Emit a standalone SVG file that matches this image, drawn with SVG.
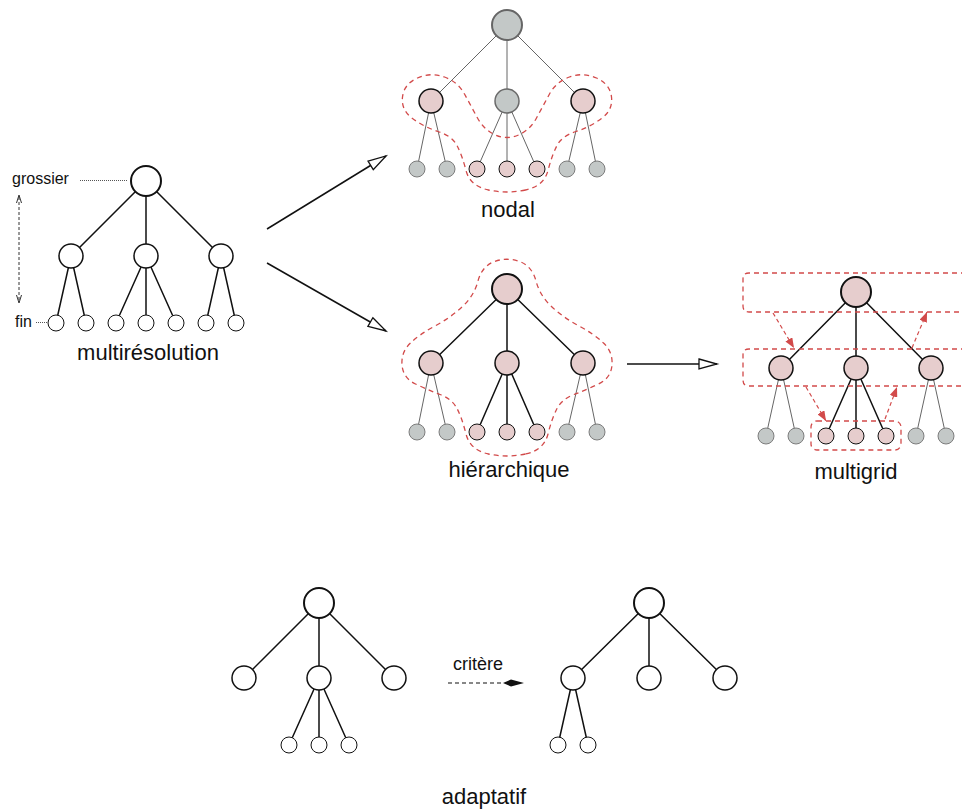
<svg xmlns="http://www.w3.org/2000/svg" width="962" height="809" viewBox="0 0 962 809">
<style>
text{font-family:"Liberation Sans",Arial,sans-serif;fill:#111}
.t{font-size:22px;text-anchor:middle}
.s{font-size:16px}
circle{fill:#fff;stroke:#111}
.r{stroke-width:2}
.m{stroke-width:1.5}
.l{stroke-width:1}
.pk{fill:#e6cdcd}
.gy{fill:#c3c8c7;stroke:#7c7c7c}
.e{stroke:#111;stroke-width:1.5;fill:none}
.eg{stroke:#666;stroke-width:1;fill:none}
.blob{fill:none;stroke:#d24a4a;stroke-width:1.3;stroke-dasharray:5 4}
.ra{stroke:#d24a4a;stroke-width:1.2;stroke-dasharray:4 3;fill:none;marker-end:url(#rh)}
.ba{stroke:#111;stroke-width:1.5;fill:none;marker-end:url(#oh)}
.dot{stroke:#555;stroke-width:1;stroke-dasharray:1 1}
</style>
<defs>
<marker id="oh" viewBox="0 0 20 12" refX="19" refY="6" markerWidth="20" markerHeight="12" markerUnits="userSpaceOnUse" orient="auto" overflow="visible">
<path d="M1,1 L19,6 L1,11 Z" fill="#fff" stroke="#111" stroke-width="1.3"/>
</marker>
<marker id="rh" viewBox="0 0 10 8" refX="10" refY="4" markerWidth="10" markerHeight="8" markerUnits="userSpaceOnUse" orient="auto">
<path d="M0,0 L10,4 L0,8 Z" fill="#d24a4a"/>
</marker>
</defs>

<g id="connectors">
<path class="e" d="M146,181 L71,256 M146,181 L146,256 M146,181 L221,256 M71,256 L56,323 M71,256 L86,323 M146,256 L116,323 M146,256 L146,323 M146,256 L176,323 M221,256 L206,323 M221,256 L236,323"/>
<path class="eg" d="M507,25 L431,101 M507,25 L507,101 M507,25 L583,101 M431,101 L417,169 M431,101 L447,169 M507,101 L477,169 M507,101 L507,169 M507,101 L537,169 M583,101 L567,169 M583,101 L597,169"/>
<path class="e" d="M507,289 L431,363 M507,289 L507,363 M507,289 L583,363 M507,363 L477,432 M507,363 L507,432 M507,363 L537,432"/>
<path class="eg" d="M431,363 L417,432 M431,363 L447,432 M583,363 L567,432 M583,363 L597,432"/>
<path class="e" d="M856,292 L781,368 M856,292 L856,368 M856,292 L931,368 M856,368 L826,436 M856,368 L856,436 M856,368 L886,436"/>
<path class="eg" d="M781,368 L766,436 M781,368 L796,436 M931,368 L916,436 M931,368 L946,436"/>
<path class="e" d="M319,603 L244,678 M319,603 L319,678 M319,603 L394,678 M319,678 L289,745 M319,678 L319,745 M319,678 L349,745"/>
<path class="e" d="M649,603 L573,678 M649,603 L649,678 M649,603 L725,678 M573,678 L558,745 M573,678 L588,745"/>
<line class="ba" x1="267" y1="229" x2="386" y2="156"/>
<line class="ba" x1="267" y1="263" x2="386" y2="331"/>
<line class="ba" x1="627" y1="364" x2="717" y2="364"/>
<line class="ra" x1="773" y1="313" x2="794" y2="348"/>
<line class="ra" x1="912" y1="348" x2="927" y2="312"/>
<line class="ra" x1="806" y1="387" x2="826" y2="421"/>
<line class="ra" x1="885" y1="419" x2="897" y2="387"/>
<line x1="448" y1="683" x2="504" y2="683" stroke="#111" stroke-width="1.2" stroke-dasharray="4 3"/>
<path d="M503,683 L511,679.5 L524,683 L511,686.5 Z" fill="#111"/>
<line class="dot" x1="80" y1="180.5" x2="128" y2="180.5"/>
<line class="dot" x1="36" y1="322.5" x2="47" y2="322.5"/>
<line x1="19" y1="197" x2="19" y2="301" stroke="#333" stroke-width="1" stroke-dasharray="3 2"/>
<path d="M16.5,203 L19,195 L21.5,203 M16.5,295 L19,303 L21.5,295" fill="none" stroke="#333" stroke-width="1"/>
</g>

<g id="groupings">
<path id="blob-nodal" class="blob" d="M525.5,190 Q507,194 488.5,190 Q470,186 466,170.5 Q462,155 457,145.5 Q452,136 438,131.5 Q424,127 412.5,118.5 Q401,110 402.5,97 Q404,84 417.5,78 Q431,72 444.5,77 Q458,82 464.5,94 Q471,106 477.5,118 Q484,130 495.5,135 Q507,140 518.5,135 Q530,130 536.5,118 Q543,106 549.5,94 Q556,82 569.5,77 Q583,72 596.5,78 Q610,84 611.5,97 Q613,110 601.5,118.5 Q590,127 576,131.5 Q562,136 557,145.5 Q552,155 548,170.5 Q544,186 525.5,190 Z"/>
<path id="blob-hier" class="blob" d="M525.5,454 Q507,458 488.5,454 Q470,450 466,434 Q462,418 457,408.5 Q452,399 440,394.5 Q428,390 415.5,384 Q403,378 402,365 Q401,352 410.5,343 Q420,334 435,326 Q450,318 462,307 Q474,296 478,281 Q482,266 494.5,261.5 Q507,257 519.5,261.5 Q532,266 536,281 Q540,296 552,307 Q564,318 579,326 Q594,334 603.5,343 Q613,352 612,365 Q611,378 598.5,384 Q586,390 574,394.5 Q562,399 557,408.5 Q552,418 548,434 Q544,450 525.5,454 Z"/>
<path id="level-0" class="blob" d="M966,273 H749 Q743,273 743,279 V306 Q743,312 749,312 H966"/>
<path id="level-1" class="blob" d="M966,349 H749 Q743,349 743,355 V380 Q743,386 749,386 H966"/>
<rect id="level-2" class="blob" x="811" y="421" width="90" height="29" rx="6"/>
</g>

<g id="mr-root"><circle class="r" cx="146" cy="181" r="15"/></g>
<g id="mr-m1"><circle class="m" cx="71" cy="256" r="12"/></g>
<g id="mr-m2"><circle class="m" cx="146" cy="256" r="12"/></g>
<g id="mr-m3"><circle class="m" cx="221" cy="256" r="12"/></g>
<g id="mr-l1"><circle class="l" cx="56" cy="323" r="8"/></g>
<g id="mr-l2"><circle class="l" cx="86" cy="323" r="8"/></g>
<g id="mr-l3"><circle class="l" cx="116" cy="323" r="8"/></g>
<g id="mr-l4"><circle class="l" cx="146" cy="323" r="8"/></g>
<g id="mr-l5"><circle class="l" cx="176" cy="323" r="8"/></g>
<g id="mr-l6"><circle class="l" cx="206" cy="323" r="8"/></g>
<g id="mr-l7"><circle class="l" cx="236" cy="323" r="8"/></g>

<g id="nd-root"><circle class="r gy" cx="507" cy="25" r="15" style="stroke:#666"/></g>
<g id="nd-m1"><circle class="m pk" cx="431" cy="101" r="12"/></g>
<g id="nd-m2"><circle class="m gy" cx="507" cy="101" r="12" style="stroke:#6a6a6a"/></g>
<g id="nd-m3"><circle class="m pk" cx="583" cy="101" r="12"/></g>
<g id="nd-l1"><circle class="l gy" cx="417" cy="169" r="8"/></g>
<g id="nd-l2"><circle class="l gy" cx="447" cy="169" r="8"/></g>
<g id="nd-l3"><circle class="l pk" cx="477" cy="169" r="8"/></g>
<g id="nd-l4"><circle class="l pk" cx="507" cy="169" r="8"/></g>
<g id="nd-l5"><circle class="l pk" cx="537" cy="169" r="8"/></g>
<g id="nd-l6"><circle class="l gy" cx="567" cy="169" r="8"/></g>
<g id="nd-l7"><circle class="l gy" cx="597" cy="169" r="8"/></g>

<g id="hi-root"><circle class="r pk" cx="507" cy="289" r="15"/></g>
<g id="hi-m1"><circle class="m pk" cx="431" cy="363" r="12"/></g>
<g id="hi-m2"><circle class="m pk" cx="507" cy="363" r="12"/></g>
<g id="hi-m3"><circle class="m pk" cx="583" cy="363" r="12"/></g>
<g id="hi-l1"><circle class="l gy" cx="417" cy="432" r="8"/></g>
<g id="hi-l2"><circle class="l gy" cx="447" cy="432" r="8"/></g>
<g id="hi-l3"><circle class="l pk" cx="477" cy="432" r="8"/></g>
<g id="hi-l4"><circle class="l pk" cx="507" cy="432" r="8"/></g>
<g id="hi-l5"><circle class="l pk" cx="537" cy="432" r="8"/></g>
<g id="hi-l6"><circle class="l gy" cx="567" cy="432" r="8"/></g>
<g id="hi-l7"><circle class="l gy" cx="597" cy="432" r="8"/></g>

<g id="mg-root"><circle class="r pk" cx="856" cy="292" r="15"/></g>
<g id="mg-m1"><circle class="m pk" cx="781" cy="368" r="12"/></g>
<g id="mg-m2"><circle class="m pk" cx="856" cy="368" r="12"/></g>
<g id="mg-m3"><circle class="m pk" cx="931" cy="368" r="12"/></g>
<g id="mg-l1"><circle class="l gy" cx="766" cy="436" r="8"/></g>
<g id="mg-l2"><circle class="l gy" cx="796" cy="436" r="8"/></g>
<g id="mg-l3"><circle class="l pk" cx="826" cy="436" r="8"/></g>
<g id="mg-l4"><circle class="l pk" cx="856" cy="436" r="8"/></g>
<g id="mg-l5"><circle class="l pk" cx="886" cy="436" r="8"/></g>
<g id="mg-l6"><circle class="l gy" cx="916" cy="436" r="8"/></g>
<g id="mg-l7"><circle class="l gy" cx="946" cy="436" r="8"/></g>

<g id="ad1-root"><circle class="r" cx="319" cy="603" r="15"/></g>
<g id="ad1-m1"><circle class="m" cx="244" cy="678" r="12"/></g>
<g id="ad1-m2"><circle class="m" cx="319" cy="678" r="12"/></g>
<g id="ad1-m3"><circle class="m" cx="394" cy="678" r="12"/></g>
<g id="ad1-l1"><circle class="l" cx="289" cy="745" r="8"/></g>
<g id="ad1-l2"><circle class="l" cx="319" cy="745" r="8"/></g>
<g id="ad1-l3"><circle class="l" cx="349" cy="745" r="8"/></g>
<g id="ad2-root"><circle class="r" cx="649" cy="603" r="15"/></g>
<g id="ad2-m1"><circle class="m" cx="573" cy="678" r="12"/></g>
<g id="ad2-m2"><circle class="m" cx="649" cy="678" r="12"/></g>
<g id="ad2-m3"><circle class="m" cx="725" cy="678" r="12"/></g>
<g id="ad2-l1"><circle class="l" cx="558" cy="745" r="8"/></g>
<g id="ad2-l2"><circle class="l" cx="588" cy="745" r="8"/></g>

<g id="labels">
<text class="s" x="12" y="184">grossier</text>
<text class="s" x="15" y="327">fin</text>
<text class="t" x="148" y="360">multirésolution</text>
<text class="t" x="508" y="217">nodal</text>
<text class="t" x="509" y="477">hiérarchique</text>
<text class="t" x="856" y="479">multigrid</text>
<text x="478" y="670" style="font-size:18px;text-anchor:middle">critère</text>
<text class="t" x="484" y="804">adaptatif</text>
</g>
</svg>
